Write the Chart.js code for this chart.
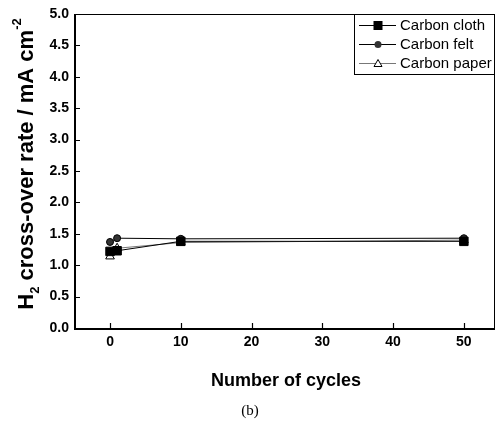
<!DOCTYPE html>
<html>
<head>
<meta charset="utf-8">
<script src="https://cdn.jsdelivr.net/npm/chart.js@4.4.1/dist/chart.umd.min.js"></script>
<style>
  html, body { margin: 0; padding: 0; background: #fff; }
  #wrap { position: relative; width: 496px; height: 428px; }
</style>
</head>
<body>
<div id="wrap"><canvas id="chart" width="496" height="428"></canvas></div>
<script>
// data
const cycles = [0, 1, 10, 50];
const clothRate = [1.22, 1.23, 1.38, 1.38];
const feltRate = [1.37, 1.43, 1.42, 1.43];
const paperRate = [1.14, 1.27, 1.36, 1.40];
const xTicks = [0, 10, 20, 30, 40, 50];
const yTicks = [0, 0.5, 1, 1.5, 2, 2.5, 3, 3.5, 4, 4.5, 5];
const seriesNames = ['Carbon cloth', 'Carbon felt', 'Carbon paper'];

function pts(ys) {
    return cycles.map((c, i) => ({ x: c, y: ys[i] }));
}

// inward ticks, frame, y title with sub/superscript, custom legend
const decorations = {
    id: 'decorations',
    afterDraw(chart) {
        const ctx = chart.ctx;
        const a = chart.chartArea;
        const xs = chart.scales.x, ys = chart.scales.y;
        ctx.save();
        ctx.strokeStyle = '#000';
        // frame
        ctx.lineWidth = 1;
        ctx.beginPath();
        ctx.moveTo(a.left, a.top + 0.5); ctx.lineTo(a.right, a.top + 0.5);
        ctx.moveTo(a.right - 0.5, a.top); ctx.lineTo(a.right - 0.5, a.bottom);
        ctx.stroke();
        ctx.lineWidth = 2;
        ctx.beginPath();
        ctx.moveTo(a.left, a.top); ctx.lineTo(a.left, a.bottom + 1);
        ctx.lineTo(a.right, a.bottom + 1);
        ctx.stroke();
        // inward ticks
        ctx.lineWidth = 1.2;
        ctx.beginPath();
        xTicks.forEach(v => {
            const px = Math.round(xs.getPixelForValue(v)) + 0.5;
            ctx.moveTo(px, a.bottom); ctx.lineTo(px, a.bottom - 5);
        });
        yTicks.forEach(v => {
            const py = Math.round(ys.getPixelForValue(v)) + 0.5;
            ctx.moveTo(a.left, py); ctx.lineTo(a.left + 5, py);
        });
        ctx.stroke();

        // y axis title
        ctx.fillStyle = '#000';
        ctx.translate(25, 164);
        ctx.rotate(-Math.PI / 2);
        ctx.textBaseline = 'alphabetic';
        ctx.textAlign = 'left';
        const big = 'bold 22px "Liberation Sans", Arial, sans-serif';
        const small = 'bold 13px "Liberation Sans", Arial, sans-serif';
        const parts = [
            ['H', big, 0], ['2', small, 6], [' cross-over rate / mA cm', big, 0], ['-2', small, -12]
        ];
        let total = 0;
        parts.forEach(p => { ctx.font = p[1]; total += ctx.measureText(p[0]).width; });
        let cx = -total / 2;
        parts.forEach(p => {
            ctx.font = p[1];
            ctx.fillText(p[0], cx, p[2] + 8);
            cx += ctx.measureText(p[0]).width;
        });
        ctx.restore();

        // legend
        ctx.save();
        const lx = 354, ly = 14, lw = 141, lh = 60;
        ctx.fillStyle = '#fff';
        ctx.fillRect(lx, ly, lw, lh);
        ctx.strokeStyle = '#000';
        ctx.lineWidth = 1;
        ctx.strokeRect(lx + 0.5, ly + 0.5, lw - 1, lh);
        chart.data.datasets.forEach((ds, i) => {
            const y = ly + 11 + i * 19;
            ctx.strokeStyle = ds.borderColor;
            ctx.lineWidth = 1;
            ctx.beginPath();
            ctx.moveTo(lx + 5, y + 0.5); ctx.lineTo(lx + 42, y + 0.5);
            ctx.stroke();
            const mx = lx + 24;
            ctx.fillStyle = ds.pointBackgroundColor;
            ctx.strokeStyle = ds.pointBorderColor;
            ctx.beginPath();
            if (ds.pointStyle === 'rect') {
                ctx.fillRect(mx - 4.5, y - 4, 9, 9);
            } else if (ds.pointStyle === 'circle') {
                ctx.arc(mx, y + 0.5, 3.5, 0, Math.PI * 2);
                ctx.fill();
            } else {
                ctx.moveTo(mx, y - 3.5); ctx.lineTo(mx + 4, y + 3.5); ctx.lineTo(mx - 4, y + 3.5);
                ctx.closePath();
                ctx.fill(); ctx.stroke();
            }
            ctx.fillStyle = '#000';
            ctx.font = '15px "Liberation Sans", Arial, sans-serif';
            ctx.textBaseline = 'middle';
            ctx.fillText(seriesNames[i], lx + 46, y + 1);
        });
        ctx.restore();

        // caption
        ctx.save();
        ctx.fillStyle = '#000';
        ctx.textAlign = 'center';
        ctx.textBaseline = 'middle';
        ctx.font = 'bold 18px "Liberation Sans", Arial, sans-serif';
        ctx.fillText('Number of cycles', 286, 381);
        ctx.font = '15px "Liberation Serif", "Times New Roman", serif';
        ctx.fillText('(b)', 250, 411);
        ctx.restore();
    }
};

const ctx = document.getElementById('chart').getContext('2d');
const chart = new Chart(ctx, {
    type: 'line',
    data: {
        datasets: [{
            label: seriesNames[0],
            data: pts(clothRate),
            borderColor: '#000',
            borderWidth: 1,
            pointStyle: 'rect',
            pointRadius: 6,
            pointBackgroundColor: '#000',
            pointBorderColor: '#000',
            pointBorderWidth: 1,
        }, {
            label: seriesNames[1],
            data: pts(feltRate),
            borderColor: '#000',
            borderWidth: 1,
            pointStyle: 'circle',
            pointRadius: 3.5,
            pointBackgroundColor: '#333',
            pointBorderColor: '#000',
            pointBorderWidth: 1,
        }, {
            label: seriesNames[2],
            data: pts(paperRate),
            borderColor: '#777',
            borderWidth: 1,
            pointStyle: 'triangle',
            pointRadius: 5,
            pointBackgroundColor: '#fff',
            pointBorderColor: '#000',
            pointBorderWidth: 1,
        }]
    },
    options: {
        responsive: false,
        animation: false,
        layout: { autoPadding: false, padding: { top: 14, right: 1, left: 0, bottom: 0 } },
        plugins: {
            legend: { display: false },
            tooltip: { enabled: false }
        },
        scales: {
            x: {
                type: 'linear',
                min: -4.95,
                max: 54.4,
                afterBuildTicks: axis => { axis.ticks = xTicks.map(v => ({ value: v })); },
                afterFit: axis => { axis.height = 100; axis.paddingRight = 0; axis.paddingLeft = 0; },
                grid: { display: false, drawTicks: false },
                border: { display: false },
                ticks: {
                    padding: 6,
                    color: '#000',
                    font: { family: '"Liberation Sans", Arial, sans-serif', size: 14, weight: 'bold' }
                }
            },
            y: {
                min: 0,
                max: 5,
                afterBuildTicks: axis => { axis.ticks = yTicks.map(v => ({ value: v })); },
                afterFit: axis => { axis.width = 75; axis.paddingTop = 0; axis.paddingBottom = 0; },
                grid: { display: false, drawTicks: false },
                border: { display: false },
                ticks: {
                    padding: 6,
                    color: '#000',
                    callback: v => Number(v).toFixed(1),
                    font: { family: '"Liberation Sans", Arial, sans-serif', size: 14, weight: 'bold' }
                }
            }
        }
    },
    plugins: [decorations]
});
</script>
</body>
</html>
